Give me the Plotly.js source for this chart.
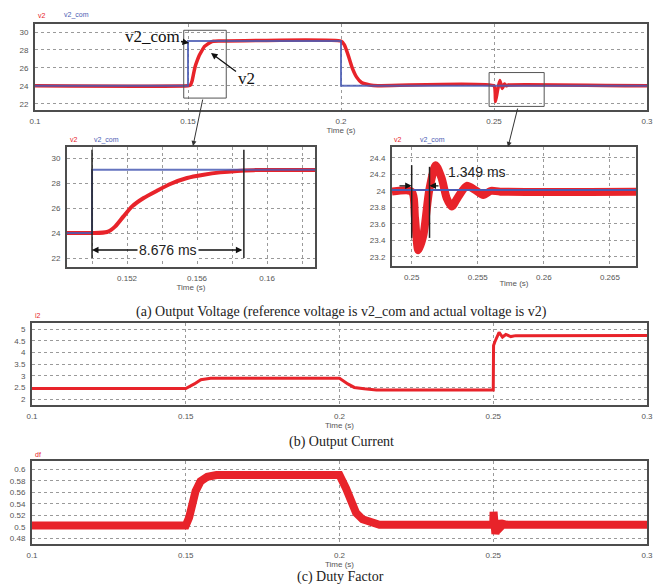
<!DOCTYPE html>
<html>
<head>
<meta charset="utf-8">
<script src="https://cdn.plot.ly/plotly-3.0.1.min.js"></script>
<style>html,body{margin:0;padding:0;background:#fff;}#chart{width:656px;height:584px;}</style>
</head>
<body>
<div id="chart"></div>
<script>
// ---------- data ----------
// (a) overview: reference voltage v2_com and actual voltage v2
const tCom = [0.1, 0.15, 0.15, 0.2, 0.2, 0.3];
const v2Com = [24, 24, 29, 29, 24, 24];
const tV2 = [0.1, 0.15, 0.1508, 0.1513, 0.1518, 0.1523, 0.153, 0.1537, 0.1545, 0.1554, 0.1564, 0.1573, 0.1583, 0.16,
             0.2, 0.2011, 0.2025, 0.2037, 0.2051, 0.2067, 0.2094, 0.212,
             0.25, 0.2505, 0.2511, 0.2519, 0.2527, 0.2534, 0.254, 0.2547, 0.3];
const v2 = [24, 24, 24.1, 24.5, 25.3, 26.1, 26.8, 27.4, 27.9, 28.4, 28.65, 28.85, 28.97, 29,
            29, 28.56, 27.26, 25.97, 24.97, 24.37, 24.1, 24,
            24, 22.25, 23.4, 24.6, 23.7, 24.2, 24.0, 24.1, 24];

// (a) zoom on the step at 0.15 s
const tRiseCom = [0.1485, 0.15, 0.15, 0.163];
const riseCom = [24, 24, 29.07, 29.07];
const tRise = [0.1485, 0.15, 0.15086, 0.15133, 0.1518, 0.15229, 0.15295, 0.15371, 0.15447, 0.15543, 0.15638, 0.15733, 0.15829, 0.15924, 0.1605, 0.163];
const rise = [24.0, 24.0, 24.08, 24.53, 25.33, 26.13, 26.8, 27.38, 27.92, 28.4, 28.66, 28.85, 28.97, 29.03, 29.05, 29.05];

// (a) zoom on the load disturbance at 0.25 s
const tDistCom = [0.2485, 0.27];
const distCom = [24.01, 24.01];
const tDist = [0.2485, 0.25, 0.25025, 0.2505, 0.25088, 0.25133, 0.25182, 0.25227, 0.25265, 0.25303, 0.25353, 0.25417, 0.2548, 0.25542, 0.256, 0.2567, 0.27];
const dist = [23.99, 23.99, 23.67, 23.28, 23.46, 24.01, 24.31, 24.15, 23.91, 23.81, 23.93, 24.06, 24.01, 23.95, 24.0, 23.99, 23.99];

// (b) output current i2
const tI2 = [0.1, 0.15, 0.1528, 0.1549, 0.1581, 0.2, 0.2027, 0.2048, 0.208, 0.212, 0.25, 0.2501, 0.2505, 0.2519, 0.253, 0.2541, 0.2557, 0.2573, 0.3];
const i2 = [2.46, 2.46, 2.66, 2.84, 2.9, 2.9, 2.66, 2.51, 2.45, 2.4, 2.4, 4.3, 4.45, 4.86, 4.66, 4.77, 4.68, 4.72, 4.73];

// (c) duty factor df
const tDf = [0.1, 0.15, 0.1511, 0.1521, 0.1532, 0.1548, 0.157, 0.16, 0.2, 0.2021, 0.2037, 0.2054, 0.2075, 0.2102, 0.213, 0.25, 0.2501, 0.2507, 0.2516, 0.2524, 0.2533, 0.2545, 0.3];
const df = [0.502, 0.502, 0.516, 0.539, 0.562, 0.579, 0.587, 0.59, 0.59, 0.567, 0.5415, 0.524, 0.513, 0.507, 0.5034, 0.5034, 0.526, 0.4875, 0.51, 0.5, 0.505, 0.5034, 0.5034];

// tick labels
const mainTicks = [0.1, 0.15, 0.2, 0.25, 0.3];
const mainTickText = ['0.1', '0.15', '0.2', '0.25', '0.3'];
const riseTicks = [0.15, 0.152, 0.154, 0.156, 0.158, 0.16, 0.162];
const riseTickText = ['', '0.152', '', '0.156', '', '0.16', ''];
const distTicks = [0.25, 0.255, 0.26, 0.265];
const distTickText = ['0.25', '0.255', '0.26', '0.265'];
const voltTicks = [22, 24, 26, 28, 30];
const distYTicks = [23.2, 23.4, 23.6, 23.8, 24, 24.2, 24.4];
const i2Ticks = [2, 2.5, 3, 3.5, 4, 4.5, 5];
const dfTicks = [0.48, 0.5, 0.52, 0.54, 0.56, 0.58, 0.6];

// measurement annotations
const settleStart = 0.15, settleMs = 8.676;
const recoverStart = 0.25, recoverMs = 1.349;

// ---------- layout helpers ----------
const W = 656, H = 584;
const px = x => x / W;
const py = y => 1 - y / H;
const RIGHT = 647;

const RED = '#e8232a', BLUE = '#4a5cb4', FRAME = '#4d4d4d';
const tickFont = {family: 'Liberation Sans, Arial, sans-serif', size: 8, color: '#555'};

function xAx(l, r, range, tickvals, ticktext, withTitle) {
  return {
    domain: [px(l), px(r)], range: range, tickvals: tickvals, ticktext: ticktext,
    showgrid: true, gridcolor: '#9a9a9a', griddash: 'dot', gridwidth: 1,
    showline: true, mirror: true, linecolor: FRAME, linewidth: 2,
    ticks: '', zeroline: false, tickfont: tickFont, ticklabelstandoff: 2,
    ticklabeloverflow: 'allow',
    title: withTitle ? {text: 'Time (s)', font: tickFont, standoff: 0} : {text: ''}
  };
}
function yAx(t, b, range, tickvals) {
  return {
    domain: [py(b), py(t)], range: range, tickvals: tickvals,
    showgrid: true, gridcolor: '#9a9a9a', griddash: 'dot', gridwidth: 1,
    showline: true, mirror: true, linecolor: FRAME, linewidth: 2,
    ticks: '', zeroline: false, tickfont: tickFont, ticklabelstandoff: 3
  };
}

const traces = [
  // (a) overview
  {x: tV2, y: v2, xaxis: 'x', yaxis: 'y', mode: 'lines', line: {color: RED, width: 3.5, shape: 'spline', smoothing: 0.4}},
  {x: tCom, y: v2Com, xaxis: 'x', yaxis: 'y', mode: 'lines', line: {color: BLUE, width: 2}, opacity: 0.85},
  // zoom step
  {x: tRise, y: rise, xaxis: 'x2', yaxis: 'y2', mode: 'lines', line: {color: RED, width: 4, shape: 'spline', smoothing: 0.6}},
  {x: tRiseCom, y: riseCom, xaxis: 'x2', yaxis: 'y2', mode: 'lines', line: {color: BLUE, width: 2}, opacity: 0.85},
  // zoom disturbance
  {x: tDist, y: dist, xaxis: 'x3', yaxis: 'y3', mode: 'lines', line: {color: RED, width: 8, shape: 'spline', smoothing: 0.7}},
  {x: tDistCom, y: distCom, xaxis: 'x3', yaxis: 'y3', mode: 'lines', line: {color: BLUE, width: 2}},
  // (b) current
  {x: tI2, y: i2, xaxis: 'x4', yaxis: 'y4', mode: 'lines', line: {color: RED, width: 3}},
  // (c) duty
  {x: tDf, y: df, xaxis: 'x5', yaxis: 'y5', mode: 'lines', line: {color: RED, width: 8}}
];

const capFont = {family: 'Liberation Serif, Times New Roman, serif', size: 14, color: '#222'};
const lblFont = {family: 'Liberation Sans, Arial, sans-serif', size: 7};
const bigSerif = {family: 'Liberation Serif, Times New Roman, serif', size: 17, color: '#111'};
const msFont = {family: 'Liberation Sans, Arial, sans-serif', size: 14, color: '#222'};

function note(x, y, text, font, extra) {
  return Object.assign({xref: 'paper', yref: 'paper', x: px(x), y: py(y), text: text, font: font,
    showarrow: false, xanchor: 'left', yanchor: 'middle'}, extra || {});
}

const annotations = [
  // series labels
  note(36, 15, 'v2', Object.assign({color: RED}, lblFont)),
  note(62, 15, 'v2_com', Object.assign({color: BLUE}, lblFont)),
  note(68, 140, 'v2', Object.assign({color: RED}, lblFont)),
  note(92, 140, 'v2_com', Object.assign({color: BLUE}, lblFont)),
  note(392, 140, 'v2', Object.assign({color: RED}, lblFont)),
  note(418, 140, 'v2_com', Object.assign({color: BLUE}, lblFont)),
  note(33, 315, 'i2', Object.assign({color: RED}, lblFont)),
  note(33, 454, 'df', Object.assign({color: RED}, lblFont)),
  // captions
  note(341, 312, '(a) Output Voltage (reference voltage is v2_com and actual voltage is v2)', capFont, {xanchor: 'center'}),
  note(341, 442, '(b) Output Current', capFont, {xanchor: 'center'}),
  note(340, 577, '(c) Duty Factor', capFont, {xanchor: 'center'}),
  // call-outs in overview
  {xref: 'paper', yref: 'paper', x: px(189), y: py(43), ax: -37, ay: -7, text: 'v2_com', font: bigSerif,
   showarrow: true, arrowhead: 2, arrowsize: 1, arrowwidth: 1.3, arrowcolor: '#111'},
  {xref: 'paper', yref: 'paper', x: px(211), y: py(53), ax: 35, ay: 26, text: 'v2', font: bigSerif,
   showarrow: true, arrowhead: 2, arrowsize: 1, arrowwidth: 1.3, arrowcolor: '#111'},
  // arrows from zoom boxes to zoom panels
  {xref: 'paper', yref: 'paper', x: px(193), y: py(146), ax: 10, ay: -48, text: '',
   showarrow: true, arrowhead: 2, arrowsize: 1, arrowwidth: 1, arrowcolor: '#333'},
  {xref: 'paper', yref: 'paper', x: px(508), y: py(147), ax: 10, ay: -40, text: '',
   showarrow: true, arrowhead: 2, arrowsize: 1, arrowwidth: 1, arrowcolor: '#333'},
  // settling time double arrow
  {xref: 'x2', yref: 'y2', axref: 'x2', ayref: 'y2', x: settleStart, y: 22.64, ax: settleStart + settleMs / 1000, ay: 22.64,
   text: '', showarrow: true, arrowhead: 2, startarrowhead: 2, arrowside: 'end+start', arrowsize: 1, arrowwidth: 1.3, arrowcolor: '#111'},
  {xref: 'x2', yref: 'y2', x: settleStart + settleMs / 2000, y: 22.64, text: settleMs.toFixed(3) + ' ms', font: msFont,
   showarrow: false, bgcolor: '#fff', borderpad: 1},
  // recovery time arrows
  {xref: 'x3', yref: 'y3', axref: 'x3', ayref: 'y3', x: recoverStart, y: 24.06, ax: 0.24896, ay: 24.06,
   text: '', showarrow: true, arrowhead: 2, arrowsize: 1, arrowwidth: 1.3, arrowcolor: '#111'},
  {xref: 'x3', yref: 'y3', axref: 'x3', ayref: 'y3', x: recoverStart + recoverMs / 1000, y: 24.06, ax: 0.25214, ay: 24.06,
   text: '', showarrow: true, arrowhead: 2, arrowsize: 1, arrowwidth: 1.3, arrowcolor: '#111'},
  {xref: 'x3', yref: 'y3', x: 0.25262, y: 24.23, text: recoverMs.toFixed(3) + ' ms', font: msFont,
   showarrow: false, xanchor: 'left'}
];

const lineBlack = {color: '#222', width: 1.5};
const shapes = [
  // zoom boxes in overview
  {type: 'rect', xref: 'x', yref: 'y', x0: 0.1486, x1: 0.1625, y0: 22.63, y1: 30.2, line: {color: '#555', width: 1}},
  {type: 'rect', xref: 'x', yref: 'y', x0: 0.2484, x1: 0.2664, y0: 21.7, y1: 25.48, line: {color: '#555', width: 1}},
  // settling markers
  {type: 'line', xref: 'x2', yref: 'y2', x0: settleStart, x1: settleStart, y0: 22.0, y1: 30.66, line: lineBlack},
  {type: 'line', xref: 'x2', yref: 'y2', x0: settleStart + settleMs / 1000, x1: settleStart + settleMs / 1000, y0: 22.0, y1: 30.66, line: lineBlack},
  // recovery markers
  {type: 'line', xref: 'x3', yref: 'y3', x0: recoverStart, x1: recoverStart, y0: 23.43, y1: 24.31, line: lineBlack},
  {type: 'line', xref: 'x3', yref: 'y3', x0: recoverStart + recoverMs / 1000, x1: recoverStart + recoverMs / 1000, y0: 23.43, y1: 24.29, line: lineBlack}
];

const layout = {
  width: W, height: H, margin: {l: 0, r: 0, t: 0, b: 0},
  paper_bgcolor: '#fff', plot_bgcolor: '#fff', showlegend: false,
  xaxis: xAx(35, RIGHT, [0.1, 0.3], mainTicks, mainTickText, true),
  yaxis: yAx(24, 110, [21.3, 30.9], voltTicks),
  xaxis2: xAx(67, 315, [0.14857, 0.16274], riseTicks, riseTickText, true),
  yaxis2: yAx(147, 267, [21.28, 30.88], voltTicks),
  xaxis3: xAx(392, 636, [0.24851, 0.26697], distTicks, distTickText, true),
  yaxis3: yAx(147, 266, [23.09, 24.53], distYTicks),
  xaxis4: xAx(32, RIGHT, [0.1, 0.3], mainTicks, mainTickText, true),
  yaxis4: yAx(323, 405, [1.76, 5.26], i2Ticks),
  xaxis5: xAx(32, RIGHT, [0.1, 0.3], mainTicks, mainTickText, true),
  yaxis5: yAx(461, 544, [0.470, 0.6144], dfTicks),
  annotations: annotations,
  shapes: shapes
};
layout.yaxis.anchor = 'x'; layout.xaxis.anchor = 'y';
layout.xaxis2.anchor = 'y2'; layout.yaxis2.anchor = 'x2';
layout.xaxis3.anchor = 'y3'; layout.yaxis3.anchor = 'x3';
layout.xaxis4.anchor = 'y4'; layout.yaxis4.anchor = 'x4';
layout.xaxis5.anchor = 'y5'; layout.yaxis5.anchor = 'x5';

Plotly.newPlot('chart', traces, layout, {staticPlot: true, displayModeBar: false});
</script>
</body>
</html>
